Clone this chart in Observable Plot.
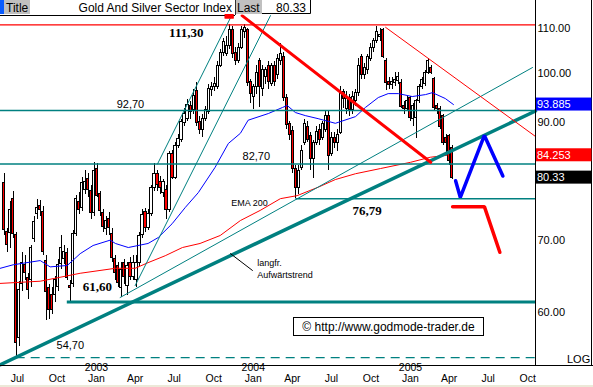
<!DOCTYPE html>
<html><head><meta charset="utf-8">
<script src="https://cdn.jsdelivr.net/npm/d3@7"></script>
<script src="https://cdn.jsdelivr.net/npm/@observablehq/plot@0.6"></script>
<style>html,body{margin:0;padding:0;background:#fff;overflow:hidden}svg{display:block}</style>
</head><body><div id="chart"></div>
<script>
// Weekly candles, Gold and Silver Sector Index (XAU), first week ending 2002-05-31
const firstWeek = "2002-05-31";
const open = [79.4,71.5,71.4,76.8,71.0,57.0,64.0,66.7,64.8,64.5,70.5,74.3,75.6,74.6,67.2,63.5,62.5,62.5,63.6,66.8,
67.5,68.4,63.8,64.0,71.2,76.2,75.3,78.2,80.1,78.0,74.5,81.8,77.5,74.5,72.0,73.5,71.2,67.5,66.5,63.5,
67.0,63.8,67.0,65.0,64.5,67.0,71.0,74.6,72.2,74.3,78.5,81.0,79.5,77.8,78.2,74.9,84.4,80.3,86.0,87.0,
90.3,91.1,93.5,92.7,96.7,90.5,89.0,91.0,92.5,96.8,97.5,97.5,102.0,104.7,104.5,106.4,110.0,104.8,103.0,106.0,
109.5,110.0,98.5,95.5,97.5,103.0,97.0,99.5,102.0,98.0,102.0,100.0,103.0,104.0,95.3,90.0,88.8,81.9,78.5,82.0,
86.5,89.5,87.8,83.5,86.5,89.0,87.5,89.0,91.7,84.5,87.5,86.5,88.4,96.5,93.0,95.3,92.7,94.5,96.3,104.0,
100.0,101.0,103.5,106.0,107.5,108.5,110.0,103.0,98.5,97.8,98.3,98.8,98.2,93.5,93.0,95.3,91.0,91.3,94.5,97.5,
98.0,100.5,101.5,99.2,93.5,93.0,91.7,87.5,87.8,85.6];
const high = [81.0,72.0,76.3,78.0,71.5,64.3,68.5,68.0,65.5,69.5,74.0,76.6,76.5,75.5,68.0,64.0,63.5,65.0,67.5,71.0,
69.5,69.0,64.5,71.8,77.3,77.8,80.3,81.5,81.0,79.0,83.0,82.7,78.0,75.0,74.0,74.5,72.0,68.0,67.0,67.0,
67.5,67.0,67.8,68.0,68.0,71.5,75.0,75.2,75.0,79.0,82.7,81.5,80.5,80.0,79.0,85.0,85.2,86.5,88.0,91.0,
93.0,95.0,94.5,97.0,98.4,91.5,92.0,93.5,98.0,98.5,99.5,103.0,105.5,108.0,108.5,111.3,111.0,106.0,107.0,111.0,
111.3,110.5,99.0,98.0,102.0,103.6,102.0,101.5,103.0,102.5,103.0,104.5,107.0,105.0,96.0,90.5,89.5,82.5,82.5,86.0,
91.0,90.5,88.5,87.0,89.5,90.0,90.5,92.7,92.5,88.5,88.5,89.0,97.5,97.0,96.5,96.0,96.5,97.0,103.5,104.5,
102.5,104.5,107.0,108.0,111.0,110.5,110.5,103.5,99.5,99.5,100.5,100.5,99.0,94.5,95.5,95.5,94.0,95.0,98.0,99.5,
101.0,103.6,102.0,99.5,94.0,93.5,92.0,88.0,88.0,86.0];
const low = [71.0,68.5,69.0,70.5,54.7,56.0,63.0,64.5,62.0,63.5,70.0,73.5,74.0,68.0,59.2,59.3,60.0,61.5,63.0,66.0,
66.8,64.5,61.6,63.5,70.8,74.3,74.8,77.5,77.0,73.5,74.0,77.0,74.0,71.5,71.0,71.0,67.0,64.5,63.5,62.2,
64.0,62.5,64.5,64.5,63.6,66.5,70.5,71.5,71.8,74.0,78.0,78.0,77.5,77.0,73.4,74.5,80.0,80.0,85.5,86.5,
89.5,90.5,91.0,92.0,89.5,88.0,87.5,90.5,92.0,95.5,96.5,97.0,101.5,104.0,104.0,105.5,103.5,102.0,102.5,105.5,
108.0,97.5,94.0,92.9,96.0,93.3,95.5,98.0,97.0,97.5,97.5,99.0,102.0,94.5,89.0,87.0,81.0,76.79,77.5,81.5,
86.0,86.5,81.5,80.2,86.0,86.0,87.0,88.5,81.5,84.0,85.5,85.0,88.0,93.0,92.0,91.5,92.0,93.5,95.5,99.0,
99.0,100.0,103.0,105.0,107.0,107.5,103.5,96.7,97.0,97.0,97.5,98.0,93.0,92.0,92.5,90.5,89.5,87.4,94.0,97.0,
97.5,100.0,100.0,92.5,92.0,89.0,86.0,84.5,82.5,80.0];
const close = [71.8,69.5,75.0,71.3,56.5,63.2,67.0,65.6,63.2,69.2,73.0,75.3,75.0,68.5,62.9,60.5,60.5,64.5,66.7,69.2,
68.5,64.8,63.5,71.2,76.7,74.9,79.4,79.6,78.2,74.5,81.5,77.3,74.8,72.3,73.2,72.2,67.6,65.5,64.2,66.0,
65.0,66.5,65.0,67.0,67.0,70.9,74.2,72.1,74.3,78.5,81.0,79.0,78.5,79.5,74.9,84.4,80.3,86.0,87.2,90.5,
92.0,93.7,92.5,95.7,90.3,89.0,91.0,92.7,97.0,97.5,98.0,102.0,104.7,107.2,106.4,110.0,104.5,103.0,106.0,110.0,
110.5,98.4,96.0,97.5,100.5,97.5,101.0,101.0,98.5,102.0,98.5,103.5,104.5,95.2,89.9,88.0,81.9,78.5,81.5,85.0,
90.0,87.0,83.6,86.5,88.5,87.0,90.0,91.7,84.2,87.5,86.5,88.0,96.3,95.0,95.0,92.7,95.5,96.3,102.0,100.0,
101.5,103.8,106.0,107.5,109.5,109.0,104.0,98.4,97.8,98.5,99.0,99.5,93.4,93.0,94.5,91.3,93.5,94.5,97.5,99.0,
100.5,103.0,100.5,93.1,93.0,89.5,86.5,86.5,83.3,80.33];

// Moving averages
const emaShortDates = ["2002-05-22","2002-06-21","2002-08-23","2002-09-15","2002-10-25","2002-11-24","2002-12-24","2003-02-02","2003-02-14","2003-03-16","2003-05-01","2003-05-25","2003-06-26","2003-07-27","2003-08-26","2003-10-04","2003-11-04","2003-12-02","2003-12-20","2004-02-05","2004-03-09","2004-03-20","2004-04-08","2004-05-01","2004-05-31","2004-07-10","2004-08-26","2004-09-18","2004-10-18","2004-11-10","2004-12-04","2005-01-05","2005-02-05","2005-02-21","2005-03-23","2005-04-11"];
const emaShortValues = [66.2,66.7,67.3,66.4,66.6,68.3,69.5,70.3,69.8,69.2,69.8,70.7,72.8,75.4,77.8,82.1,86.4,88.3,90.8,92.1,93.3,93.7,92.3,91.7,91.1,90.2,91.5,93.3,95.3,96.1,96.1,95.5,95.9,96.3,95.1,93.885];
const ema200Dates = ["2002-05-22","2002-08-23","2002-11-24","2003-02-14","2003-04-01","2003-05-01","2003-06-10","2003-07-20","2003-08-30","2003-10-16","2003-12-02","2004-01-17","2004-03-04","2004-04-12","2004-05-31","2004-07-10","2004-08-26","2004-10-23","2005-01-01","2005-02-16","2005-03-27"];
const ema200Values = [64.1,64.4,65.5,66.2,66.2,67.0,68.0,69.2,69.8,71.0,73.3,74.9,76.8,77.3,78.7,80.0,81.0,81.9,83.0,83.9,84.253];

// Horizontal levels
const levelValues = [111.30, 92.70, 82.70, 76.79, 61.60, 54.70];
const levelStarts = ["2002-05-22T12:00Z","2002-05-22T12:00Z","2002-05-22T12:00Z","2004-04-09","2002-10-25","2002-06-28"];

// Trend lines (start / end)
const longTrendDates = ["2002-05-22T12:00Z","2005-10-19"]; const longTrendValues = [53.9, 92.6];
const thinTrendDates = ["2003-02-25","2005-10-12"]; const thinTrendValues = [62.2, 101.6];
const channelLowDates = ["2003-04-01","2004-02-10"]; const channelLowValues = [63.8, 113.5];
const channelHighDates = ["2003-05-23","2003-11-09"]; const channelHighValues = [82.7, 113.0];
const downTrendDates = ["2003-12-06","2005-02-17"]; const downTrendValues = [113.5, 83.0];
const downThinDates = ["2004-11-04","2005-10-19"]; const downThinValues = [110.7, 87.7];
const leaderDates = ["2003-11-09","2003-12-30"]; const leaderValues = [68.3, 65.9];

// Scenario arrows
const bullDates = ["2005-04-16","2005-04-27","2005-06-22","2005-08-04"]; const bullValues = [79.8, 77.0, 87.9, 80.6];
const bearDates = ["2005-04-09","2005-06-22","2005-07-28"]; const bearValues = [75.5, 75.5, 68.5];

// Axis ticks
const yTicks = [60, 70, 90, 100, 110];
const monthTicks = ["2002-07-01","2002-10-01","2003-01-01","2003-04-01","2003-07-01","2003-10-01","2004-01-01","2004-04-01","2004-07-01","2004-10-01","2005-01-01","2005-04-01","2005-07-01","2005-10-01"];
const monthNames = ["Jul","Oct","Jan","Apr","Jul","Oct","Jan","Apr","Jul","Oct","Jan","Apr","Jul","Oct"];
const yearLabels = ["","","2003","","","","2004","","","","2005","","",""];

// Annotation texts
const noteTexts = ["111,30","92,70","82,70","EMA 200","76,79","61,60","54,70"];
const noteDates = ["2003-07-29","2003-03-21","2004-01-08","2003-12-23","2004-09-22","2003-01-03","2002-11-01"];
const noteValues = [109.5, 93.9, 84.0, 76.0, 74.9, 63.7, 56.2];
const noteBold = [true,false,false,false,true,true,false];

const lastValues = [93.885, 84.253, 80.33];
const lastTexts = ["93.885", "84.253", "80.33"];
const lastColors = ["#0000ff", "#ff0000", "#000000"];

const D = s => new Date(s.length <= 10 ? s + "T00:00:00Z" : s);
const day = 864e5;
const t0 = D(firstWeek);
const candles = close.map((c, i) => ({date: new Date(+t0 + i*7*day), open: open[i], high: high[i], low: low[i], close: c}));
const pts = (ds, vs) => ds.map((d, i) => ({date: D(d), value: vs[i]}));
const levels = levelValues.map((v, i) => ({value: v, start: D(levelStarts[i])}));
const xDomain = [D("2002-05-22T12:00Z"), D("2005-10-19")];
const teal = "#008080";
const sans = "Liberation Sans, Arial, sans-serif";
const serif = "Liberation Serif, Times New Roman, serif";
const notes = noteTexts.map((t, i) => ({t, date: D(noteDates[i]), value: noteValues[i], bold: noteBold[i]}));
const months = monthTicks.map((m, i) => ({date: D(m), m: monthNames[i], y: yearLabels[i]}));

const lineOf = (ds, vs, opts) => Plot.line(pts(ds, vs), {x: "date", y: "value", ...opts});

const plot = Plot.plot({
  width: 593, height: 387,
  marginTop: 15, marginBottom: 22, marginLeft: 0, marginRight: 58,
  x: {type: "utc", domain: xDomain, axis: null},
  y: {type: "log", domain: [53.8, 113.53], axis: null},
  style: {fontFamily: sans, fontSize: "11px", background: "white", overflow: "visible"},
  marks: [
    Plot.ruleX(candles, {x: "date", y1: "low", y2: "high", stroke: "black", strokeWidth: 1, shapeRendering: "crispEdges"}),
    Plot.rect(candles, {x1: d => new Date(+d.date - 2.5*day), x2: d => new Date(+d.date + 2.5*day), y1: "open", y2: "close",
      fill: d => d.close >= d.open ? "white" : "red", stroke: "black", strokeWidth: 1, shapeRendering: "crispEdges"}),
    lineOf(emaShortDates, emaShortValues, {stroke: "#0000ff", strokeWidth: 1}),
    lineOf(ema200Dates, ema200Values, {stroke: "#ff0000", strokeWidth: 1}),
    Plot.ruleY(levels.filter((d, i) => i === 0), {y: "value", x1: "start", x2: () => xDomain[1], stroke: "#ff0000", strokeWidth: 1.2}),
    Plot.ruleY(levels.filter((d, i) => i >= 1 && i <= 3), {y: "value", x1: "start", x2: () => xDomain[1], stroke: teal, strokeWidth: 1.3}),
    Plot.ruleY(levels.filter((d, i) => i === 4), {y: "value", x1: "start", x2: () => xDomain[1], stroke: teal, strokeWidth: 3}),
    Plot.ruleY(levels.filter((d, i) => i === 5), {y: "value", x1: "start", x2: () => xDomain[1], stroke: teal, strokeWidth: 1.3, strokeDasharray: "9,6"}),
    lineOf(longTrendDates, longTrendValues, {stroke: teal, strokeWidth: 3.5}),
    lineOf(thinTrendDates, thinTrendValues, {stroke: teal, strokeWidth: 1}),
    lineOf(channelLowDates, channelLowValues, {stroke: teal, strokeWidth: 1}),
    lineOf(channelHighDates, channelHighValues, {stroke: teal, strokeWidth: 1}),
    lineOf(downTrendDates, downTrendValues, {stroke: "#ff0000", strokeWidth: 3}),
    lineOf(downThinDates, downThinValues, {stroke: "#ff0000", strokeWidth: 1}),
    lineOf(leaderDates, leaderValues, {stroke: "black", strokeWidth: 1}),
    lineOf(bullDates, bullValues, {stroke: "#0000ff", strokeWidth: 3.5, strokeLinejoin: "miter"}),
    lineOf(bearDates, bearValues, {stroke: "#ff0000", strokeWidth: 3.5, strokeLinejoin: "miter"}),
    Plot.text(notes.filter(d => d.bold), {x: "date", y: "value", text: "t", fontFamily: serif, fontWeight: "bold", fontSize: 13, fill: "black"}),
    Plot.text(notes.filter(d => !d.bold && d.t !== "EMA 200"), {x: "date", y: "value", text: "t", fontSize: 11, fill: "black"}),
    Plot.text(notes.filter(d => d.t === "EMA 200"), {x: "date", y: "value", text: "t", fontSize: 9, fill: "black"}),
    Plot.text([{date: D("2004-01-10"), value: 66.9, t: "langfr."}, {date: D("2004-01-10"), value: 65.3, t: "Aufwärtstrend"}],
      {x: "date", y: "value", text: "t", textAnchor: "start", fontSize: 9, fill: "black"}),
    Plot.text(yTicks, {y: d => d, text: d => d.toFixed(2), frameAnchor: "right", textAnchor: "start", dx: 2, dy: -2, fontSize: 11, fill: "black"}),
    Plot.text(months, {x: "date", text: "m", frameAnchor: "bottom", dy: 16, fontSize: 10.5, fill: "black"}),
    Plot.text(months.filter(d => d.y), {x: "date", text: "y", frameAnchor: "bottom", dy: 5.5, fontSize: 10.5, fill: "black"})
  ]
});

document.getElementById("chart").appendChild(plot);
const svg = d3.select(plot);
const xs = plot.scale("x"), ys = plot.scale("y");
const T = (g, x, y, txt, size, anchor) => g.append("text").attr("x", x).attr("y", y)
  .attr("text-anchor", anchor || "start").attr("font-size", size).attr("font-family", sans).attr("fill", "black").text(txt);

// frame lines
svg.append("line").attr("x1", 535.5).attr("x2", 535.5).attr("y1", 0).attr("y2", 366).attr("stroke", "black");
svg.append("line").attr("x1", 591.5).attr("x2", 591.5).attr("y1", 0).attr("y2", 366).attr("stroke", "black");
svg.append("line").attr("x1", 0).attr("x2", 593).attr("y1", 365.5).attr("y2", 365.5).attr("stroke", "black");
T(svg, 567, 363, "LOG", 11);
svg.append("rect").attr("x", 0).attr("y", 385).attr("width", 593).attr("height", 2).attr("fill", "#ece9d8");

// last-value boxes
lastValues.forEach((v, i) => {
  const y = ys.apply(v);
  svg.append("rect").attr("x", 536).attr("y", y - 6.5).attr("width", 55.5).attr("height", 13).attr("fill", lastColors[i]);
  T(svg, 537, y + 4, lastTexts[i], 11).attr("fill", "white");
});

// peak marker
const peak = candles[75];
svg.append("rect").attr("x", xs.apply(peak.date) - 4.5).attr("y", 14).attr("width", 9).attr("height", 4.5).attr("fill", "#ff0000");

// header
const hdr = svg.append("g");
hdr.append("rect").attr("x", 0).attr("y", 0).attr("width", 535).attr("height", 14.5).attr("fill", "white");
hdr.append("rect").attr("x", 0).attr("y", 0).attr("width", 4).attr("height", 14).attr("fill", "#0a5cff");
hdr.append("rect").attr("x", 4).attr("y", 0).attr("width", 26).attr("height", 14).attr("fill", "#c0c0c0");
T(hdr, 6, 12, "Title", 12);
T(hdr, 232, 12, "Gold And Silver Sector Index", 12, "end");
hdr.append("rect").attr("x", 235).attr("y", 0).attr("width", 27).attr("height", 14).attr("fill", "#c0c0c0");
hdr.append("line").attr("x1", 235.5).attr("x2", 235.5).attr("y1", 0).attr("y2", 15).attr("stroke", "#303030");
T(hdr, 237, 12, "Last", 12);
T(hdr, 306, 12, "80.33", 12, "end");
hdr.append("line").attr("x1", 262).attr("x2", 310.5).attr("y1", 13.5).attr("y2", 13.5).attr("stroke", "black");
hdr.append("line").attr("x1", 310.5).attr("x2", 310.5).attr("y1", 0).attr("y2", 13.5).attr("stroke", "black");
hdr.append("line").attr("x1", 0).attr("x2", 235).attr("y1", 15.5).attr("y2", 15.5).attr("stroke", "black");
// re-draw peak marker above header background
svg.append("rect").attr("x", xs.apply(peak.date) - 4.5).attr("y", 14).attr("width", 9).attr("height", 4.5).attr("fill", "#ff0000");

// copyright box
svg.append("rect").attr("x", 293.5).attr("y", 317.5).attr("width", 190).attr("height", 18).attr("fill", "white").attr("stroke", "black");
T(svg, 388.5, 331, "© http://www.godmode-trader.de", 12, "middle");
</script>
</body></html>
